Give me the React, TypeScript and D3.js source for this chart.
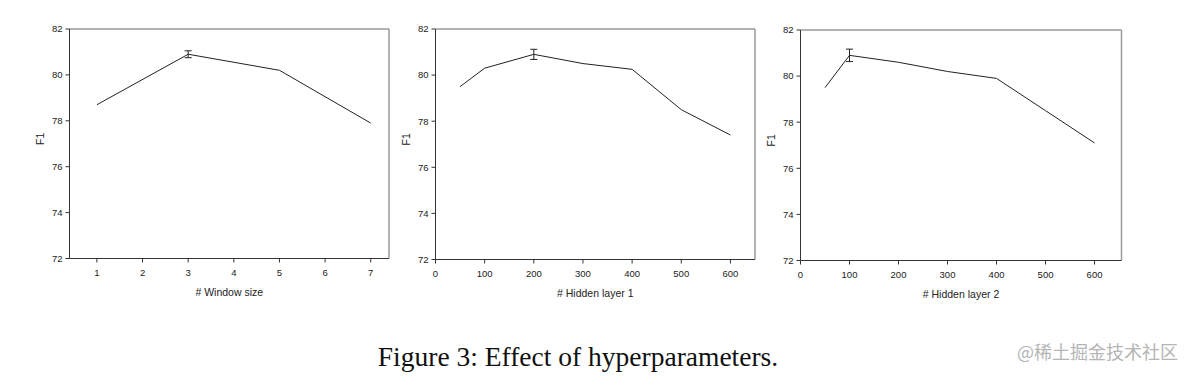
import React from "react";
import * as d3 from "d3";

// ---- Data ----
const windowSizes = [1, 3, 5, 7];
const windowF1 = [78.7, 80.9, 80.2, 77.9];
const windowErr = [0, 0.15, 0, 0];

const hidden1Sizes = [50, 100, 200, 300, 400, 500, 600];
const hidden1F1 = [79.5, 80.3, 80.9, 80.5, 80.25, 78.5, 77.4];
const hidden1Err = [0, 0, 0.22, 0, 0, 0, 0];

const hidden2Sizes = [50, 100, 200, 300, 400, 500, 600];
const hidden2F1 = [79.5, 80.9, 80.6, 80.2, 79.9, 78.5, 77.1];
const hidden2Err = [0, 0.27, 0, 0, 0, 0, 0];

const windowTicks = [1, 2, 3, 4, 5, 6, 7];
const hiddenTicks = [0, 100, 200, 300, 400, 500, 600];
const yTicks = [72, 74, 76, 78, 80, 82];

const xLabels = ["# Window size", "# Hidden layer 1", "# Hidden layer 2"];
const caption = "Figure 3: Effect of hyperparameters.";
const watermark = "@稀土掘金技术社区";

type Panel = {
  xs: number[];
  ys: number[];
  errs: number[];
  xDomain: [number, number];
  xTicks: number[];
  label: string;
  box: { x0: number; x1: number; y0: number; y1: number };
};

const panels: Panel[] = [
  { xs: windowSizes, ys: windowF1, errs: windowErr, xDomain: [0.4, 7.4], xTicks: windowTicks, label: xLabels[0], box: { x0: 69.5, x1: 389, y0: 29, y1: 258.5 } },
  { xs: hidden1Sizes, ys: hidden1F1, errs: hidden1Err, xDomain: [0, 650], xTicks: hiddenTicks, label: xLabels[1], box: { x0: 435.5, x1: 755, y0: 29, y1: 259.5 } },
  { xs: hidden2Sizes, ys: hidden2F1, errs: hidden2Err, xDomain: [0, 655], xTicks: hiddenTicks, label: xLabels[2], box: { x0: 800.5, x1: 1121.5, y0: 30, y1: 260.5 } },
];

const sans = "'Liberation Sans', Arial, sans-serif";

function PanelView({ p }: { p: Panel }) {
  const { x0, x1, y0, y1 } = p.box;
  const x = d3.scaleLinear().domain(p.xDomain).range([x0, x1]);
  const y = d3.scaleLinear().domain([72, 82]).range([y1, y0]);
  const pts = p.xs.map((v, i) => [v, p.ys[i]] as [number, number]);
  const line = d3.line<[number, number]>().x((d) => x(d[0])).y((d) => y(d[1]));
  return (
    <g>
      <line x1={x0} x2={x1} y1={y0} y2={y0} stroke="#9a9a9a" strokeWidth={1.5} />
      <line x1={x1} x2={x1} y1={y0} y2={y1} stroke="#9a9a9a" strokeWidth={1.5} />
      <line x1={x0} x2={x0} y1={y0} y2={y1} stroke="#333" strokeWidth={1} />
      <line x1={x0} x2={x1} y1={y1} y2={y1} stroke="#333" strokeWidth={1} />
      {yTicks.map((t) => (
        <g key={"y" + t}>
          <line x1={x0 - 4} x2={x0} y1={y(t)} y2={y(t)} stroke="#333" />
          <text x={x0 - 7} y={y(t)} dy="0.35em" textAnchor="end" fontFamily={sans} fontSize={9.5} fill="#222">
            {t}
          </text>
        </g>
      ))}
      {p.xTicks.map((t) => (
        <g key={"x" + t}>
          <line x1={x(t)} x2={x(t)} y1={y1} y2={y1 + 4} stroke="#333" />
          <text x={x(t)} y={y1 + 14} dy="0.35em" textAnchor="middle" fontFamily={sans} fontSize={9.5} fill="#222">
            {t}
          </text>
        </g>
      ))}
      <text x={(x0 + x1) / 2} y={y1 + 34} dy="0.35em" textAnchor="middle" fontFamily={sans} fontSize={10.5} fill="#222">
        {p.label}
      </text>
      <text
        transform={`translate(${x0 - 29},${(y0 + y1) / 2 - 5}) rotate(-90)`}
        dy="0.35em"
        textAnchor="middle"
        fontFamily={sans}
        fontSize={10.5}
        fill="#222"
      >
        F1
      </text>
      <path d={line(pts) || ""} fill="none" stroke="#222" strokeWidth={1} />
      {pts.map((d, i) =>
        p.errs[i] > 0 ? (
          <g key={"e" + i} stroke="#222" strokeWidth={1}>
            <line x1={x(d[0])} x2={x(d[0])} y1={y(d[1] - p.errs[i])} y2={y(d[1] + p.errs[i])} />
            <line x1={x(d[0]) - 3.5} x2={x(d[0]) + 3.5} y1={y(d[1] - p.errs[i])} y2={y(d[1] - p.errs[i])} />
            <line x1={x(d[0]) - 3.5} x2={x(d[0]) + 3.5} y1={y(d[1] + p.errs[i])} y2={y(d[1] + p.errs[i])} />
          </g>
        ) : null
      )}
    </g>
  );
}

export default function App() {
  return (
    <svg
      width={1193}
      height={377}
      style={{ position: "absolute", left: 0, top: 0, background: "#fff" }}
    >
      <rect width={1193} height={377} fill="#fff" />
      {panels.map((p, i) => (
        <PanelView key={i} p={p} />
      ))}
      <text x={578} y={366} textAnchor="middle" fontFamily="'Liberation Serif', 'Times New Roman', serif" fontSize={27.5} fill="#111">
        {caption}
      </text>
      <text x={1178} y={359} textAnchor="end" fontFamily="'Noto Sans CJK SC', sans-serif" fontSize={18} fill="#b5b5b5">
        {watermark}
      </text>
    </svg>
  );
}
